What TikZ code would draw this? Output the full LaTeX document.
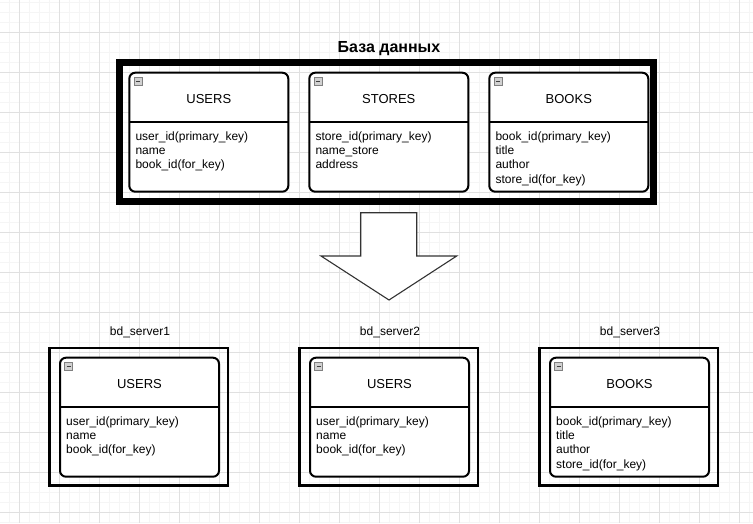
\documentclass[tikz,border=0pt]{standalone}
\usepackage{fontspec}
\setmainfont{Liberation Sans}
\newcommand{\erfields}[3]{%
  \foreach \t [count=\i from 0] in {#3}
    \node[field] (#1-f\i) at (#2) [yshift=-14.3*\i pt] {\t};%
}
\begin{document}
\begin{tikzpicture}[x=1pt,y=-1pt,
  minorgrid/.style={draw=black!4,line width=1pt},
  majorgrid/.style={draw=black!12,line width=1pt},
  tbl/.style={draw=black,line width=2pt,rounded corners=6pt,minimum width=159pt,minimum height=119pt,anchor=north west,inner sep=0pt,outer sep=0pt,fill=white},
  divider/.style={draw=black,line width=2pt},
  hdr/.style={font=\fontsize{13}{15}\selectfont,anchor=base},
  field/.style={font=\fontsize{12}{14}\selectfont,anchor=base west,inner sep=0pt},
  icon/.style={draw=black!50,fill=black!18,line width=0.8pt,minimum size=8pt,inner sep=0pt,outer sep=0pt,anchor=north west},
  server/.style={draw=black,line width=2.5pt,minimum width=178.5pt,minimum height=137.5pt,anchor=north west,inner sep=0pt,outer sep=0pt},
  slabel/.style={font=\fontsize{12}{14}\selectfont,anchor=base},
  dbbox/.style={draw=black,line width=7pt,minimum width=534pt,minimum height=139pt,anchor=north west,inner sep=0pt,outer sep=0pt},
  blockarrow/.style={draw=black!80,line width=1.1pt,fill=white,line join=miter}
]
\useasboundingbox (0,0) rectangle (753,523);
\fill[white] (0,0) rectangle (753,523);
% grid
\foreach \x in {9,19,...,749} \draw[minorgrid] (\x,0) -- (\x,523);
\foreach \y in {2,12,...,522} \draw[minorgrid] (0,\y) -- (753,\y);
\foreach \x in {19,59,...,739} \draw[majorgrid] (\x,0) -- (\x,523);
\foreach \y in {32,72,...,512} \draw[majorgrid] (0,\y) -- (753,\y);

% title
\node[font=\bfseries\fontsize{16}{19}\selectfont,anchor=base] (title) at (389,52.3) {База данных};
% database frame
\node[dbbox] (db) at (119.5,62.5) {};

% tables
\foreach \nm/\x/\y/\ttl in {users/129.3/72.7/USERS, stores/309.3/72.7/STORES, books/489.3/72.7/BOOKS,
                           susers1/60/357.7/USERS, susers2/310/357.7/USERS, sbooks3/550/357.7/BOOKS}{
  \node[tbl] (\nm) at (\x,\y) {};
  \draw[divider] ([yshift=-49.5pt]\nm.north west) -- ([yshift=-49.5pt]\nm.north east);
  \node[icon] (\nm-icon) at ([xshift=4.7pt,yshift=-4.6pt]\nm.north west) {};
  \draw[line width=1.2pt,black!75] ([xshift=1.8pt]\nm-icon.west) -- ([xshift=-1.8pt]\nm-icon.east);
  \node[hdr] (\nm-title) at ([yshift=-30.6pt]\nm.north) {\ttl};
  \coordinate (\nm-fs) at ([xshift=6pt,yshift=-67.5pt]\nm.north west);
}
\erfields{users}{users-fs}{user\_id(primary\_key),name,book\_id(for\_key)}
\erfields{stores}{stores-fs}{store\_id(primary\_key),name\_store,address}
\erfields{books}{books-fs}{book\_id(primary\_key),title,author,store\_id(for\_key)}
\erfields{susers1}{susers1-fs}{user\_id(primary\_key),name,book\_id(for\_key)}
\erfields{susers2}{susers2-fs}{user\_id(primary\_key),name,book\_id(for\_key)}
\erfields{sbooks3}{sbooks3-fs}{book\_id(primary\_key),title,author,store\_id(for\_key)}

% block arrow
\draw[blockarrow] (360.7,212.7) -- (416.7,212.7) -- (416.7,256) -- (456.7,256)
   -- (389,300) -- (321,256) -- (360.7,256) -- cycle;

% servers
\node[server] (srv1) at (49.5,348) {};
\node[server] (srv2) at (299.5,348) {};
\node[server] (srv3) at (539.5,348) {};
\node[slabel] (srv1-label) at (140,335.5) {bd\_server1};
\node[slabel] (srv2-label) at (390,335.5) {bd\_server2};
\node[slabel] (srv3-label) at (630,335.5) {bd\_server3};
\end{tikzpicture}
\end{document}
